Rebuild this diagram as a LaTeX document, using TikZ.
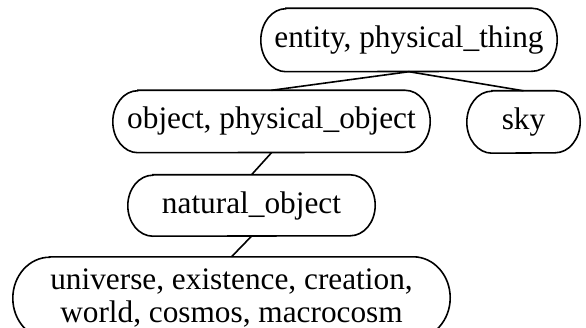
\documentclass[tikz,border=0pt]{standalone}
\usepackage{fontspec}
\setmainfont{Liberation Serif}
\newcommand\rbox[3]{%
  \draw[boxline] ([xshift=#2]#1.north west) -- ([xshift=-#2]#1.north east)
    arc[start angle=90,end angle=-90,x radius=#2,y radius=#3]
    -- ([xshift=#2]#1.south west)
    arc[start angle=270,end angle=90,x radius=#2,y radius=#3] -- cycle;}
\begin{document}
\begin{tikzpicture}[x=1pt,y=1pt,
  lbl/.style={inner sep=0pt,align=center,font=\fontsize{31.3}{33}\selectfont},
  boxline/.style={line width=1.6pt},
  edge/.style={line width=1.6pt}]
\useasboundingbox (0,0) rectangle (586,327);
\node[lbl,minimum width=296pt,minimum height=63pt] (ent) at (409,287) {entity, physical\_thing};
\node[lbl,minimum width=317pt,minimum height=62pt] (obj) at (271.5,205.5) {object, physical\_object};
\node[lbl,minimum width=113pt,minimum height=62pt] (sky) at (523.5,205) {sky};
\node[lbl,minimum width=247pt,minimum height=61pt] (nat) at (251.5,121.5) {natural\_object};
\node[lbl,minimum width=437pt,minimum height=82pt] (uni) at (231.5,29) {universe, existence, creation,\\world, cosmos, macrocosm};
\rbox{ent}{25pt}{31.5pt}
\rbox{obj}{25pt}{31pt}
\rbox{sky}{25pt}{31pt}
\rbox{nat}{25pt}{30.5pt}
\rbox{uni}{37pt}{41pt}
\draw[edge] (ent.south) -- (obj.north);
\draw[edge] (ent.south) -- (sky.north);
\draw[edge] (obj.south) -- (nat.north);
\draw[edge] (nat.south) -- (uni.north);
\end{tikzpicture}
\end{document}
